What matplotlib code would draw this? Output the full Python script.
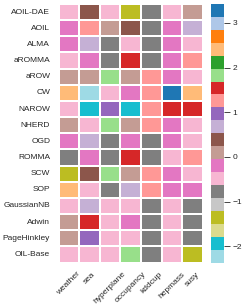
import numpy as np
import pandas as pd
import matplotlib
matplotlib.use('Agg')
import matplotlib.pyplot as plt
import seaborn as sns

plt.rcParams['font.family'] = ['Liberation Sans', 'DejaVu Sans']

# datasets (columns) and methods (rows)
datasets = ['weather', 'sea', 'hyperplane', 'occupancy', 'kddcup', 'hepmass', 'susy']
methods = ['AOIL-DAE', 'AOIL', 'ALMA', 'aROMMA', 'aROW', 'CW', 'NAROW', 'NHERD',
           'OGD', 'ROMMA', 'SCW', 'SOP', 'GaussianNB', 'Adwin', 'PageHinkley', 'OIL-Base']

# values, one list per dataset (rows in order of methods)
weather = [-0.48, -0.19, -0.19, -0.48, 0.10, 2.41, -0.48, 0.10, -0.19, -0.77, -1.35, 2.41, -0.48, 0.10, 0.10, -0.48]
sea = [0.39, 1.25, 0.67, -0.19, 0.10, -2.22, -1.93, -0.48, 0.67, -0.19, 0.39, -0.48, 0.67, 1.54, 0.96, -0.48]
hyperplane = [-0.48, 0.10, -0.77, -0.77, 1.83, -0.48, 0.96, 1.83, -0.77, -0.77, 1.83, -0.77, -0.48, -0.48, -0.48, -0.48]
occupancy = [-1.35, 0.39, -0.48, 1.54, 0.10, -0.19, -1.93, 0.10, -0.19, 1.54, 0.10, 0.67, -0.48, -0.19, -0.48, 1.83]
kddcup = [-0.77, -0.77, -0.77, -0.77, 1.25, 1.25, 1.25, 1.25, -0.77, -0.77, 1.25, 1.25, -0.77, -0.77, -0.77, -0.77]
hepmass = [-0.48, -0.19, -0.19, -0.19, -0.19, 3.28, 1.54, -0.19, -0.19, -0.48, -0.19, -0.19, -0.48, -0.48, -0.48, -0.48]
susy = [0.10, 0.67, -0.48, 1.25, -0.48, 2.41, 1.54, -0.48, -0.48, 1.25, -0.48, -0.19, -0.77, -0.77, -0.77, -1.35]

cbar_ticks = [-2, -1, 0, 1, 2, 3]
VMIN, VMAX = -2.36, 3.42

df = pd.DataFrame({'weather': weather, 'sea': sea, 'hyperplane': hyperplane,
                   'occupancy': occupancy, 'kddcup': kddcup, 'hepmass': hepmass,
                   'susy': susy}, index=methods)[datasets]

W, H = 245, 307
fig = plt.figure(figsize=(W / 100, H / 100), dpi=100)
ax = fig.add_axes([58.5 / W, 1 - 262.5 / H, (203 - 58.5) / W, (262.5 - 4) / H])
cax = fig.add_axes([211 / W, 1 - 262.5 / H, 13 / W, (262.5 - 4) / H])

sns.heatmap(df, ax=ax, cbar_ax=cax, cmap='tab20_r', vmin=VMIN, vmax=VMAX,
            linewidths=0.2, linecolor='white')

ax.set_yticks(np.arange(len(methods)) + 0.5)
ax.set_yticklabels(methods, rotation=0)
ax.set_xticks(np.arange(len(datasets)) + 0.5)
ax.set_xticklabels(datasets, rotation=45, ha='center')
ax.tick_params(length=0, pad=6, labelsize=6, colors='0.15')
ax.set_xlabel('')
ax.set_ylabel('')

cax.set_yticks(cbar_ticks)
cax.tick_params(labelsize=6, length=4.3, width=0.6, pad=2, colors='0.15')
for s in cax.spines.values():
    s.set_visible(False)

fig.savefig('out.png', dpi=100)
